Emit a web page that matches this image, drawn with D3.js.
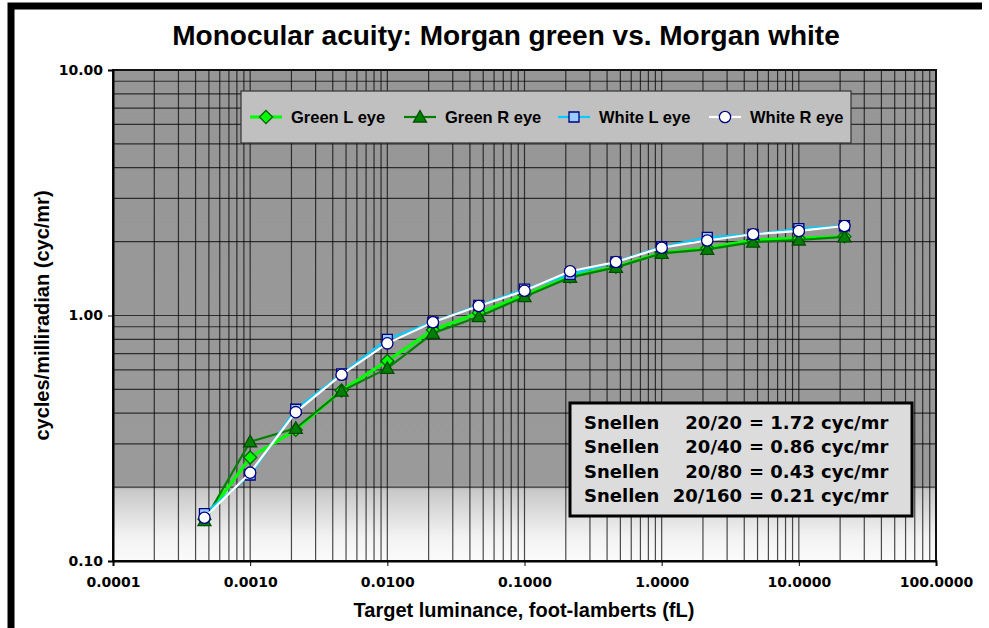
<!DOCTYPE html>
<html>
<head>
<meta charset="utf-8">
<script src="https://cdn.jsdelivr.net/npm/d3@7"></script>
<style>
  body { margin: 0; background: #fff; }
  svg { display: block; }
</style>
</head>
<body>
<div id="chart"></div>
<script>
  // luminance in foot-lamberts, 1/3 decade steps
  const luminance = [0.000464, 0.001, 0.00215, 0.00464, 0.01, 0.0215, 0.0464, 0.1, 0.215, 0.464, 1, 2.15, 4.64, 10, 21.5];
  const greenL = [0.148, 0.264, 0.342, 0.495, 0.653, 0.873, 1.027, 1.212, 1.44, 1.58, 1.80, 1.88, 2.03, 2.06, 2.10];
  const greenR = [0.146, 0.306, 0.347, 0.492, 0.609, 0.846, 0.989, 1.193, 1.43, 1.57, 1.79, 1.86, 1.99, 2.03, 2.09];
  const whiteL = [0.156, 0.224, 0.415, 0.578, 0.80, 0.94, 1.10, 1.28, 1.47, 1.655, 1.906, 2.08, 2.14, 2.26, 2.32];
  const whiteR = [0.150, 0.229, 0.404, 0.574, 0.770, 0.938, 1.093, 1.262, 1.514, 1.652, 1.889, 2.02, 2.142, 2.21, 2.315];
  const seriesNames = ['Green L eye', 'Green R eye', 'White L eye', 'White R eye'];

  const xTicks = [0.0001, 0.001, 0.01, 0.1, 1, 10, 100];
  const xTickLabels = ['0.0001', '0.0010', '0.0100', '0.1000', '1.0000', '10.0000', '100.0000'];
  const yTicks = [0.1, 1, 10];
  const yTickLabels = ['0.10', '1.00', '10.00'];

  const snellenFrac = ['20/20', '20/40', '20/80', '20/160'];
  const snellenCyc = ['1.72', '0.86', '0.43', '0.21'];

  const width = 989;
  const height = 628;
  const margin = { top: 70, right: 53, bottom: 67, left: 113 };

  const svg = d3.select('#chart')
    .append('svg')
    .attr('width', width)
    .attr('height', height);

  const x = d3.scaleLog()
    .domain([0.0001, 100])
    .range([margin.left, width - margin.right]);
  const y = d3.scaleLog()
    .domain([0.1, 10])
    .range([height - margin.bottom, margin.top]);

  // plot background: gray fading to white at the bottom
  const grad = svg.append('defs').append('linearGradient')
    .attr('id', 'bg').attr('x1', 0).attr('y1', 0).attr('x2', 0).attr('y2', 1);
  grad.append('stop').attr('offset', '0%').attr('stop-color', '#969696');
  grad.append('stop').attr('offset', '84.5%').attr('stop-color', '#9a9a9a');
  grad.append('stop').attr('offset', '85.5%').attr('stop-color', '#c8c8c8');
  grad.append('stop').attr('offset', '95%').attr('stop-color', '#f2f2f2');
  grad.append('stop').attr('offset', '100%').attr('stop-color', '#fbfbfb');

  svg.append('rect')
    .attr('x', x(0.0001)).attr('y', y(10))
    .attr('width', x(100) - x(0.0001))
    .attr('height', y(0.1) - y(10))
    .attr('fill', 'url(#bg)');

  // gridlines, majors and minors
  const xGrid = [];
  for (let e = -4; e < 2; e++) for (let k = 1; k < 10; k++) xGrid.push(k * Math.pow(10, e));
  const yGrid = [];
  for (let e = -1; e < 1; e++) for (let k = 1; k < 10; k++) yGrid.push(k * Math.pow(10, e));

  svg.append('g')
    .attr('stroke', '#000')
    .attr('stroke-opacity', 0.7)
    .attr('stroke-width', 1.2)
    .selectAll('line')
    .data(xGrid.slice(1))
    .join('line')
      .attr('x1', d => x(d)).attr('x2', d => x(d))
      .attr('y1', y(10)).attr('y2', y(0.1));
  svg.append('g')
    .attr('stroke', '#000')
    .attr('stroke-opacity', 0.7)
    .attr('stroke-width', 1.2)
    .selectAll('line')
    .data(yGrid.slice(1))
    .join('line')
      .attr('y1', d => y(d)).attr('y2', d => y(d))
      .attr('x1', x(0.0001)).attr('x2', x(100));

  // plot border
  svg.append('rect')
    .attr('x', x(0.0001)).attr('y', y(10))
    .attr('width', x(100) - x(0.0001))
    .attr('height', y(0.1) - y(10))
    .attr('fill', 'none')
    .attr('stroke', '#111')
    .attr('stroke-width', 2);

  function xAxis(g) {
    g.attr('transform', `translate(0,${height - margin.bottom})`)
      .call(d3.axisBottom(x).tickValues(xTicks).tickSize(5).tickPadding(11)
        .tickFormat((d, i) => xTickLabels[i]))
      .attr('font-size', '14px')
      .attr('font-family', 'DejaVu Sans')
      .attr('font-weight', 'bold');
    g.select('.domain').attr('stroke-width', 2);
  }
  function yAxis(g) {
    g.attr('transform', `translate(${margin.left},0)`)
      .call(d3.axisLeft(y).tickValues(yTicks).tickSize(5).tickPadding(5)
        .tickFormat((d, i) => yTickLabels[i]))
      .attr('font-size', '14px')
      .attr('font-family', 'DejaVu Sans')
      .attr('font-weight', 'bold');
    g.select('.domain').attr('stroke-width', 2);
  }
  svg.append('g').call(xAxis);
  svg.append('g').call(yAxis);
  svg.selectAll('.tick text').attr('fill', '#000');

  // series
  const diamond = 'M0,-6.5L6.5,0L0,6.5L-6.5,0Z';
  const triangle = 'M0,-6.5L6.5,5L-6.5,5Z';
  const square = 'M-5,-5H5V5H-5Z';
  const circle = d3.symbol().type(d3.symbolCircle).size(100)();
  const series = [
    { name: seriesNames[0], values: greenL, line: '#00ff00', lw: 3.2, shape: diamond, fill: '#00ff00', stroke: '#006400' },
    { name: seriesNames[1], values: greenR, line: '#008000', lw: 2.2, shape: triangle, fill: '#008000', stroke: '#004d00' },
    { name: seriesNames[2], values: whiteL, line: '#00ccff', lw: 2.2, shape: square, fill: '#99ccff', stroke: '#000080' },
    { name: seriesNames[3], values: whiteR, line: '#ffffff', lw: 2.2, shape: circle, fill: '#ffffff', stroke: '#000080' }
  ];

  const line = d3.line()
    .x((d, i) => x(luminance[i]))
    .y(d => y(d));

  series.forEach(s => {
    const g = svg.append('g');
    g.append('path')
      .attr('d', line(s.values))
      .attr('fill', 'none')
      .attr('stroke', s.line)
      .attr('stroke-width', s.lw);
    g.selectAll('path.m')
      .data(s.values)
      .join('path')
        .attr('class', 'm')
        .attr('d', s.shape)
        .attr('transform', (d, i) => `translate(${x(luminance[i])},${y(d)})`)
        .attr('fill', s.fill)
        .attr('stroke', s.stroke)
        .attr('stroke-width', 1.3);
  });

  // legend
  const legend = svg.append('g');
  legend.append('rect')
    .attr('x', 241).attr('y', 91).attr('width', 610).attr('height', 52)
    .attr('fill', '#c0c0c0').attr('stroke', '#333').attr('stroke-width', 1.2);
  const legX = [266, 420, 574, 725];
  series.forEach((s, i) => {
    const lg = legend.append('g').attr('transform', `translate(${legX[i]},117)`);
    lg.append('line').attr('x1', -16).attr('x2', 16)
      .attr('stroke', s.line).attr('stroke-width', s.lw);
    lg.append('path').attr('d', s.shape)
      .attr('fill', s.fill).attr('stroke', s.stroke).attr('stroke-width', 1.3);
    lg.append('text').attr('x', 25).attr('dy', '0.35em')
      .attr('font-family', 'Liberation Sans, Arial, sans-serif')
      .attr('font-weight', 'bold').attr('font-size', '16.5px')
      .text(s.name);
  });

  // Snellen box
  const sn = svg.append('g');
  sn.append('rect')
    .attr('x', 570).attr('y', 403).attr('width', 342).attr('height', 113)
    .attr('fill', '#dcdcdc').attr('stroke', '#000').attr('stroke-width', 3);
  const snText = sn.append('g')
    .attr('font-family', 'DejaVu Sans')
    .attr('font-weight', 'bold')
    .attr('font-size', '18px');
  snellenFrac.forEach((f, i) => {
    const yy = 429 + i * 24.3;
    snText.append('text').attr('x', 584).attr('y', yy).text('Snellen');
    snText.append('text').attr('x', 742).attr('y', yy).attr('text-anchor', 'end').text(f);
    snText.append('text').attr('x', 749).attr('y', yy).text('= ' + snellenCyc[i] + ' cyc/mr');
  });

  // titles
  svg.append('text')
    .attr('x', 506).attr('y', 45)
    .attr('text-anchor', 'middle')
    .attr('font-family', 'Liberation Sans, Arial, sans-serif')
    .attr('font-weight', 'bold').attr('font-size', '28px')
    .text('Monocular acuity: Morgan green vs. Morgan white');
  svg.append('text')
    .attr('x', 524).attr('y', 617)
    .attr('text-anchor', 'middle')
    .attr('font-family', 'Liberation Sans, Arial, sans-serif')
    .attr('font-weight', 'bold').attr('font-size', '20px')
    .text('Target luminance, foot-lamberts (fL)');
  svg.append('text')
    .attr('transform', `translate(49,${(y(10) + y(0.1)) / 2}) rotate(-90)`)
    .attr('text-anchor', 'middle')
    .attr('font-family', 'Liberation Sans, Arial, sans-serif')
    .attr('font-weight', 'bold').attr('font-size', '20px')
    .text('cycles/milliradian (cyc/mr)');

  // outer frame (top and left)
  svg.append('path')
    .attr('d', 'M11,628V6H982')
    .attr('fill', 'none')
    .attr('stroke', '#000')
    .attr('stroke-width', 7);
</script>
</body>
</html>
